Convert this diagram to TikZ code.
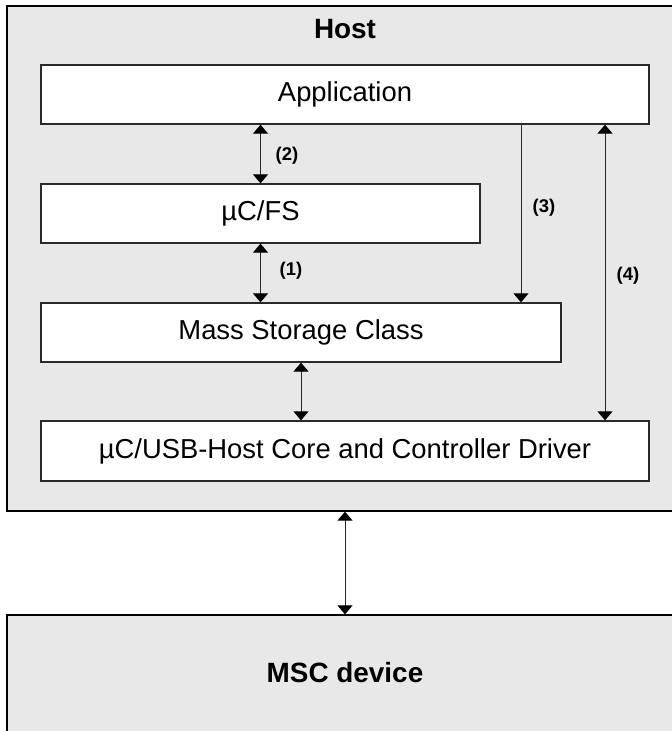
\documentclass[tikz,border=0pt]{standalone}
\usepackage{fontspec}
\setmainfont{Liberation Sans}
\usetikzlibrary{arrows.meta}
\definecolor{hostgray}{HTML}{E8E8E8}
\definecolor{linegray}{HTML}{2A2A2A}
\tikzset{
  outer/.style={draw=black, line width=1.3bp, fill=hostgray, inner sep=0pt},
  layer/.style={draw=linegray, line width=1.3bp, fill=white, inner sep=0pt,
    font=\fontsize{27.5}{32}\selectfont},
  title/.style={font=\fontsize{28}{32}\selectfont\bfseries, inner sep=0pt},
  num/.style={font=\fontsize{18.5}{20}\selectfont\bfseries, inner sep=0pt},
  conn/.style={draw=linegray, line width=1bp},
  tip/.tip={Triangle[width=15bp,length=9bp,fill=black,color=black]},
}
\begin{document}
\begin{tikzpicture}[x=1bp,y=-1bp]
\clip (0,0) rectangle (672,731);
\fill[white] (0,0) rectangle (672,731);
% Host container
\node[outer, minimum width=676bp, minimum height=505bp] (host) at (345,258.5) {};
\node[title] (hostlbl) at (345,29) {Host};
% layers
\node[layer, minimum width=608bp, minimum height=59bp] (app) at (345,94.5) {Application};
\node[layer, minimum width=439bp, minimum height=59bp] (fs) at (260.5,213.5) {µC/FS};
\node[layer, minimum width=520bp, minimum height=59bp] (mass) at (301,332.5) {Mass Storage Class};
\node[layer, minimum width=608bp, minimum height=60bp] (usb) at (345,451) {µC/USB-Host Core and Controller Driver};
% device
\node[outer, minimum width=676bp, minimum height=140bp] (dev) at (345,685) {};
\node[title] (devlbl) at (345,673) {MSC device};
% connectors
\coordinate (c3) at (521,0);
\coordinate (c4) at (605,0);
\draw[conn, {tip}-{tip}] (app.south -| fs.north) -- (fs.north);
\draw[conn, {tip}-{tip}] (fs.south) -- (fs.south |- mass.north);
\draw[conn, {tip}-{tip}] (mass.south) -- (mass.south |- usb.north);
\draw[conn, -{tip}] (app.south -| c3) -- (mass.north -| c3);
\draw[conn, {tip}-{tip}] (app.south -| c4) -- (usb.north -| c4);
\draw[conn, {tip}-{tip}] (host.south) -- (dev.north);
% labels
\node[num] (l2) at (287,156) {(2)};
\node[num] (l1) at (291,271) {(1)};
\node[num] (l3) at (544,208) {(3)};
\node[num] (l4) at (628,276) {(4)};
\end{tikzpicture}
\end{document}
